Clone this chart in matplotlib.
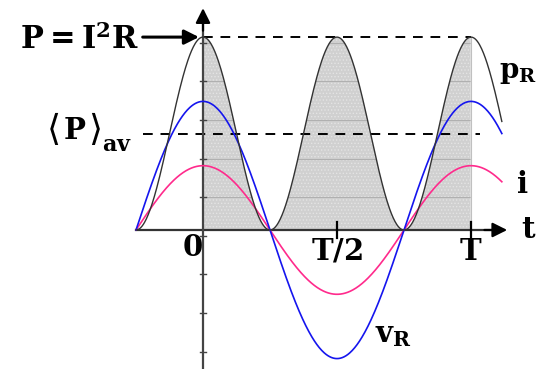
import numpy as np
import matplotlib
matplotlib.use("Agg")
import matplotlib.pyplot as plt

plt.rcParams['mathtext.fontset'] = 'dejavuserif'
plt.rcParams['font.family'] = ['DejaVu Serif']
plt.rcParams['font.weight'] = 'bold'
plt.rcParams['hatch.linewidth'] = 0.6

# Waveform parameters (time in units of the period T, current amplitude = 1).
period = 1.0
t_start, t_end = -0.25, 1.115
amp_i = 1.0
amp_v = 2.0
amp_p = 3.0
p_avg = amp_p / 2

# Vertical-axis tick levels and labelled times.
ytick_levels = [-1.89, -1.29, -0.69, -0.09, 0.51, 1.11, 1.71, 2.31, 2.91]
xtick_times = [0.5, 1.0]
xtick_labels = [r'$\mathbf{T}/\mathbf{2}$', r'$\mathbf{T}$']

t = np.linspace(t_start, t_end, 600)
i_t = amp_i * np.cos(2 * np.pi * t / period)
v_t = amp_v * np.cos(2 * np.pi * t / period)
p_t = amp_p * np.cos(2 * np.pi * t / period) ** 2

fig = plt.figure(figsize=(5.42, 3.69), dpi=100)
ax = fig.add_axes([0, 0, 1, 1])
ax.set_xlim(-0.7575, 1.2649)
ax.set_ylim(-2.162, 3.577)
ax.axis('off')

# Shaded energy area under p over one period.
mask = (t >= 0) & (t <= period)
shade = ax.fill_between(t[mask], 0, p_t[mask], facecolor='#d0d0d0',
                        edgecolor='#e4e4e4', hatch='.....', linewidth=0, zorder=1)
grid = ax.hlines([y for y in ytick_levels if y > 0], 0, period,
                 colors='#b0b0b0', linewidth=0.8, zorder=2)
grid.set_clip_path(shade.get_paths()[0], ax.transData)
ax.plot([period, period], [0, amp_p], color='#c0c0c0', lw=0.8, zorder=2)

# Dashed reference levels.
ax.plot([0, period], [amp_p, amp_p], color='black', lw=1.4, dashes=(5, 4), zorder=3)
ax.plot([-0.224, 1.034], [p_avg, p_avg], color='black', lw=1.4, dashes=(5, 4), zorder=3)

# Axes with arrow heads.
ax.plot([t_start, 1.12], [0, 0], color='#333333', lw=1.6, zorder=4)
ax.annotate('', xy=(1.135, 0), xytext=(1.05, 0),
            arrowprops=dict(arrowstyle='-|>', color='black', lw=1.6,
                            mutation_scale=22, shrinkA=0, shrinkB=0), zorder=5)
ax.plot([0, 0], [-2.162, 3.3], color='#444444', lw=1.6, zorder=4)
ax.annotate('', xy=(0, 3.45), xytext=(0, 3.1),
            arrowprops=dict(arrowstyle='-|>', color='black', lw=1.6,
                            mutation_scale=22, shrinkA=0, shrinkB=0), zorder=5)
for y in ytick_levels:
    ax.plot([-0.012, 0.012], [y, y], color='#444444', lw=1.0, zorder=4)
for x in xtick_times:
    ax.plot([x, x], [-0.12, 0.12], color='black', lw=1.6, zorder=4)

# Curves.
ax.plot(t, i_t, color='#ff2a8c', lw=1.2, zorder=6)
ax.plot(t, v_t, color='#1515ee', lw=1.2, zorder=6)
ax.plot(t, p_t, color='#333333', lw=1.0, zorder=6)

# Labels.
fs = 21
ax.text(0.0, -0.28, r'$\mathbf{0}$', fontsize=fs, ha='right', va='center')
for x, lab in zip(xtick_times, xtick_labels):
    ax.text(x, -0.33, lab, fontsize=fs, ha='center', va='center')
ax.text(1.215, 0.0, r'$\mathbf{t}$', fontsize=fs, ha='center', va='center')
ax.text(1.105, 2.45, r'$\mathbf{p}_{\mathbf{R}}$', fontsize=20, ha='left', va='center')
ax.text(1.19, 0.7, r'$\mathbf{i}$', fontsize=fs, ha='center', va='center')
ax.text(0.64, -1.63, r'$\mathbf{v}_{\mathbf{R}}$', fontsize=fs, ha='left', va='center')

# Average power label: tall brackets around a bold P.
ax.text(-0.556, 1.55, '\u27e8', fontsize=26, fontweight='normal',
        family=['DejaVu Sans'], ha='center', va='center')
ax.text(-0.478, 1.55, r'$\mathbf{P}$', fontsize=fs, ha='center', va='center')
ax.text(-0.401, 1.55, '\u27e9', fontsize=26, fontweight='normal',
        family=['DejaVu Sans'], ha='center', va='center')
ax.text(-0.378, 1.32, r'$\mathbf{av}$', fontsize=16, ha='left', va='center')

ax.text(-0.24, 2.95, r'$\mathbf{P}=\mathbf{I}^{\mathbf{2}}\mathbf{R}$', fontsize=22,
        ha='right', va='center')
ax.annotate('', xy=(-0.015, amp_p), xytext=(-0.225, amp_p),
            arrowprops=dict(arrowstyle='-|>', color='black', lw=2.2,
                            mutation_scale=22, shrinkA=0, shrinkB=0), zorder=5)

fig.savefig('out.png', dpi=100, facecolor='white')
